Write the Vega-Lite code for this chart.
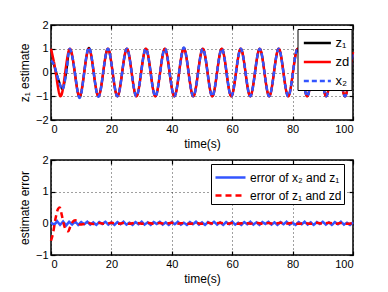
{
  "$schema": "https://vega.github.io/schema/vega-lite/v6.json",
  "padding": {"left": 17, "top": 18, "right": 5, "bottom": 5},
  "spacing": 3,
  "resolve": {"scale": {"color": "independent", "strokeDash": "independent"}, "legend": {"color": "independent", "strokeDash": "independent"}},
  "config": {
    "font": "Liberation Sans",
    "view": {"stroke": "black", "strokeWidth": 1.5},
    "axis": {
      "domain": false, "grid": true, "gridColor": "#000", "gridDash": [1, 3], "gridOpacity": 0.75,
      "tickColor": "#000", "tickSize": -4, "tickWidth": 1.2, "labelFontSize": 11, "labelColor": "#000",
      "titleFontSize": 12, "titleFontWeight": "normal", "titleColor": "#000", "labelPadding": 7, "titlePadding": 4
    }
  },
  "datasets": {
    "top": [
      {"t": 0, "s": "z1", "v": 0.5}, {"t": 1, "s": "z1", "v": 0.3}, {"t": 2, "s": "z1", "v": -0.1}, {"t": 3, "s": "z1", "v": -0.5}, {"t": 3.9, "s": "z1", "v": -0.68}, {"t": 4.8, "s": "z1", "v": -0.2}, {"t": 5.5, "s": "z1", "v": 0.45}, {"t": 6.283, "s": "z1", "v": 0.98}, {"t": 7.854, "s": "z1", "v": 0.05}, {"t": 9.425, "s": "z1", "v": -1.06}, {"t": 10.996, "s": "z1", "v": 0}, {"t": 12.566, "s": "z1", "v": 1.04}, {"t": 14.137, "s": "z1", "v": 0}, {"t": 15.708, "s": "z1", "v": -1}, {"t": 17.279, "s": "z1", "v": 0}, {"t": 18.85, "s": "z1", "v": 1}, {"t": 20.42, "s": "z1", "v": 0}, {"t": 21.991, "s": "z1", "v": -1}, {"t": 23.562, "s": "z1", "v": 0}, {"t": 25.133, "s": "z1", "v": 1}, {"t": 26.704, "s": "z1", "v": 0}, {"t": 28.274, "s": "z1", "v": -1}, {"t": 29.845, "s": "z1", "v": 0}, {"t": 31.416, "s": "z1", "v": 1}, {"t": 32.987, "s": "z1", "v": 0}, {"t": 34.558, "s": "z1", "v": -1}, {"t": 36.128, "s": "z1", "v": 0}, {"t": 37.699, "s": "z1", "v": 1}, {"t": 39.27, "s": "z1", "v": 0}, {"t": 40.841, "s": "z1", "v": -1}, {"t": 42.412, "s": "z1", "v": 0}, {"t": 43.982, "s": "z1", "v": 1.04}, {"t": 45.553, "s": "z1", "v": 0}, {"t": 47.124, "s": "z1", "v": -1}, {"t": 48.695, "s": "z1", "v": 0}, {"t": 50.265, "s": "z1", "v": 1}, {"t": 51.836, "s": "z1", "v": 0}, {"t": 53.407, "s": "z1", "v": -1}, {"t": 54.978, "s": "z1", "v": 0}, {"t": 56.549, "s": "z1", "v": 1}, {"t": 58.119, "s": "z1", "v": 0}, {"t": 59.69, "s": "z1", "v": -1}, {"t": 61.261, "s": "z1", "v": 0}, {"t": 62.832, "s": "z1", "v": 1}, {"t": 64.403, "s": "z1", "v": 0}, {"t": 65.973, "s": "z1", "v": -1}, {"t": 67.544, "s": "z1", "v": 0}, {"t": 69.115, "s": "z1", "v": 1}, {"t": 70.686, "s": "z1", "v": 0}, {"t": 72.257, "s": "z1", "v": -1}, {"t": 73.827, "s": "z1", "v": 0}, {"t": 75.398, "s": "z1", "v": 1}, {"t": 76.969, "s": "z1", "v": 0}, {"t": 78.54, "s": "z1", "v": -1}, {"t": 80.111, "s": "z1", "v": 0}, {"t": 81.681, "s": "z1", "v": 1}, {"t": 83.252, "s": "z1", "v": 0}, {"t": 84.823, "s": "z1", "v": -1}, {"t": 86.394, "s": "z1", "v": 0}, {"t": 87.965, "s": "z1", "v": 1}, {"t": 89.535, "s": "z1", "v": 0}, {"t": 91.106, "s": "z1", "v": -1}, {"t": 92.677, "s": "z1", "v": 0}, {"t": 94.248, "s": "z1", "v": 1}, {"t": 95.819, "s": "z1", "v": 0}, {"t": 97.389, "s": "z1", "v": -1}, {"t": 98.96, "s": "z1", "v": 0}, {"t": 100, "s": "z1", "v": 0.862},

      {"t": 0, "s": "zd", "v": 1}, {"t": 1.571, "s": "zd", "v": 0}, {"t": 3.142, "s": "zd", "v": -1}, {"t": 4.712, "s": "zd", "v": 0}, {"t": 6.283, "s": "zd", "v": 1}, {"t": 7.854, "s": "zd", "v": 0}, {"t": 9.425, "s": "zd", "v": -1}, {"t": 10.996, "s": "zd", "v": 0}, {"t": 12.566, "s": "zd", "v": 1}, {"t": 14.137, "s": "zd", "v": 0}, {"t": 15.708, "s": "zd", "v": -1}, {"t": 17.279, "s": "zd", "v": 0}, {"t": 18.85, "s": "zd", "v": 1}, {"t": 20.42, "s": "zd", "v": 0}, {"t": 21.991, "s": "zd", "v": -1}, {"t": 23.562, "s": "zd", "v": 0}, {"t": 25.133, "s": "zd", "v": 1}, {"t": 26.704, "s": "zd", "v": 0}, {"t": 28.274, "s": "zd", "v": -1}, {"t": 29.845, "s": "zd", "v": 0}, {"t": 31.416, "s": "zd", "v": 1}, {"t": 32.987, "s": "zd", "v": 0}, {"t": 34.558, "s": "zd", "v": -1}, {"t": 36.128, "s": "zd", "v": 0}, {"t": 37.699, "s": "zd", "v": 1}, {"t": 39.27, "s": "zd", "v": 0}, {"t": 40.841, "s": "zd", "v": -1}, {"t": 42.412, "s": "zd", "v": 0}, {"t": 43.982, "s": "zd", "v": 1}, {"t": 45.553, "s": "zd", "v": 0}, {"t": 47.124, "s": "zd", "v": -1}, {"t": 48.695, "s": "zd", "v": 0}, {"t": 50.265, "s": "zd", "v": 1}, {"t": 51.836, "s": "zd", "v": 0}, {"t": 53.407, "s": "zd", "v": -1}, {"t": 54.978, "s": "zd", "v": 0}, {"t": 56.549, "s": "zd", "v": 1}, {"t": 58.119, "s": "zd", "v": 0}, {"t": 59.69, "s": "zd", "v": -1}, {"t": 61.261, "s": "zd", "v": 0}, {"t": 62.832, "s": "zd", "v": 1}, {"t": 64.403, "s": "zd", "v": 0}, {"t": 65.973, "s": "zd", "v": -1}, {"t": 67.544, "s": "zd", "v": 0}, {"t": 69.115, "s": "zd", "v": 1}, {"t": 70.686, "s": "zd", "v": 0}, {"t": 72.257, "s": "zd", "v": -1}, {"t": 73.827, "s": "zd", "v": 0}, {"t": 75.398, "s": "zd", "v": 1}, {"t": 76.969, "s": "zd", "v": 0}, {"t": 78.54, "s": "zd", "v": -1}, {"t": 80.111, "s": "zd", "v": 0}, {"t": 81.681, "s": "zd", "v": 1}, {"t": 83.252, "s": "zd", "v": 0}, {"t": 84.823, "s": "zd", "v": -1}, {"t": 86.394, "s": "zd", "v": 0}, {"t": 87.965, "s": "zd", "v": 1}, {"t": 89.535, "s": "zd", "v": 0}, {"t": 91.106, "s": "zd", "v": -1}, {"t": 92.677, "s": "zd", "v": 0}, {"t": 94.248, "s": "zd", "v": 1}, {"t": 95.819, "s": "zd", "v": 0}, {"t": 97.389, "s": "zd", "v": -1}, {"t": 98.96, "s": "zd", "v": 0}, {"t": 100, "s": "zd", "v": 0.862},

      {"t": 0, "s": "x2", "v": 0.5}, {"t": 1, "s": "x2", "v": 0.32}, {"t": 2, "s": "x2", "v": -0.12}, {"t": 3, "s": "x2", "v": -0.52}, {"t": 3.9, "s": "x2", "v": -0.7}, {"t": 4.8, "s": "x2", "v": -0.2}, {"t": 5.5, "s": "x2", "v": 0.45}, {"t": 6.283, "s": "x2", "v": 0.99}, {"t": 7.854, "s": "x2", "v": 0.05}, {"t": 9.425, "s": "x2", "v": -1.07}, {"t": 10.996, "s": "x2", "v": 0}, {"t": 12.566, "s": "x2", "v": 1.05}, {"t": 14.137, "s": "x2", "v": 0}, {"t": 15.708, "s": "x2", "v": -1.02}, {"t": 17.279, "s": "x2", "v": 0}, {"t": 18.85, "s": "x2", "v": 1}, {"t": 20.42, "s": "x2", "v": 0}, {"t": 21.991, "s": "x2", "v": -1}, {"t": 23.562, "s": "x2", "v": 0}, {"t": 25.133, "s": "x2", "v": 1}, {"t": 26.704, "s": "x2", "v": 0}, {"t": 28.274, "s": "x2", "v": -1}, {"t": 29.845, "s": "x2", "v": 0}, {"t": 31.416, "s": "x2", "v": 1}, {"t": 32.987, "s": "x2", "v": 0}, {"t": 34.558, "s": "x2", "v": -1}, {"t": 36.128, "s": "x2", "v": 0}, {"t": 37.699, "s": "x2", "v": 1}, {"t": 39.27, "s": "x2", "v": 0}, {"t": 40.841, "s": "x2", "v": -1}, {"t": 42.412, "s": "x2", "v": 0}, {"t": 43.982, "s": "x2", "v": 1.05}, {"t": 45.553, "s": "x2", "v": 0}, {"t": 47.124, "s": "x2", "v": -1}, {"t": 48.695, "s": "x2", "v": 0}, {"t": 50.265, "s": "x2", "v": 1}, {"t": 51.836, "s": "x2", "v": 0}, {"t": 53.407, "s": "x2", "v": -1}, {"t": 54.978, "s": "x2", "v": 0}, {"t": 56.549, "s": "x2", "v": 1}, {"t": 58.119, "s": "x2", "v": 0}, {"t": 59.69, "s": "x2", "v": -1}, {"t": 61.261, "s": "x2", "v": 0}, {"t": 62.832, "s": "x2", "v": 1}, {"t": 64.403, "s": "x2", "v": 0}, {"t": 65.973, "s": "x2", "v": -1}, {"t": 67.544, "s": "x2", "v": 0}, {"t": 69.115, "s": "x2", "v": 1}, {"t": 70.686, "s": "x2", "v": 0}, {"t": 72.257, "s": "x2", "v": -1}, {"t": 73.827, "s": "x2", "v": 0}, {"t": 75.398, "s": "x2", "v": 1}, {"t": 76.969, "s": "x2", "v": 0}, {"t": 78.54, "s": "x2", "v": -1}, {"t": 80.111, "s": "x2", "v": 0}, {"t": 81.681, "s": "x2", "v": 1}, {"t": 83.252, "s": "x2", "v": 0}, {"t": 84.823, "s": "x2", "v": -1}, {"t": 86.394, "s": "x2", "v": 0}, {"t": 87.965, "s": "x2", "v": 1}, {"t": 89.535, "s": "x2", "v": 0}, {"t": 91.106, "s": "x2", "v": -1}, {"t": 92.677, "s": "x2", "v": 0}, {"t": 94.248, "s": "x2", "v": 1}, {"t": 95.819, "s": "x2", "v": 0}, {"t": 97.389, "s": "x2", "v": -1}, {"t": 98.96, "s": "x2", "v": 0}, {"t": 100, "s": "x2", "v": 0.862}
    ],
    "bottom": [
      {"t": 0, "s": "e1", "v": 0.03}, {"t": 1, "s": "e1", "v": -0.06}, {"t": 2, "s": "e1", "v": 0.07}, {"t": 3, "s": "e1", "v": -0.05}, {"t": 4, "s": "e1", "v": 0.06}, {"t": 5, "s": "e1", "v": -0.07}, {"t": 6, "s": "e1", "v": 0.05}, {"t": 7, "s": "e1", "v": -0.04}, {"t": 8, "s": "e1", "v": 0.06}, {"t": 9, "s": "e1", "v": -0.05}, {"t": 10, "s": "e1", "v": 0.04}, {"t": 11, "s": "e1", "v": -0.03}, {"t": 12, "s": "e1", "v": 0.05}, {"t": 13, "s": "e1", "v": -0.04}, {"t": 14, "s": "e1", "v": 0.03}, {"t": 15, "s": "e1", "v": -0.05}, {"t": 16, "s": "e1", "v": 0.04}, {"t": 17, "s": "e1", "v": -0.02}, {"t": 18, "s": "e1", "v": 0.05}, {"t": 19, "s": "e1", "v": -0.04}, {"t": 20, "s": "e1", "v": 0.03}, {"t": 21, "s": "e1", "v": -0.05}, {"t": 22, "s": "e1", "v": 0.04}, {"t": 23, "s": "e1", "v": -0.03}, {"t": 24, "s": "e1", "v": 0.05}, {"t": 25, "s": "e1", "v": -0.04}, {"t": 26, "s": "e1", "v": 0.02}, {"t": 27, "s": "e1", "v": -0.05}, {"t": 28, "s": "e1", "v": 0.04}, {"t": 29, "s": "e1", "v": -0.03}, {"t": 30, "s": "e1", "v": 0.05}, {"t": 31, "s": "e1", "v": -0.04}, {"t": 32, "s": "e1", "v": 0.03}, {"t": 33, "s": "e1", "v": -0.05}, {"t": 34, "s": "e1", "v": 0.04}, {"t": 35, "s": "e1", "v": -0.02}, {"t": 36, "s": "e1", "v": 0.05}, {"t": 37, "s": "e1", "v": -0.04}, {"t": 38, "s": "e1", "v": 0.03}, {"t": 39, "s": "e1", "v": -0.05}, {"t": 40, "s": "e1", "v": 0.04}, {"t": 41, "s": "e1", "v": -0.03}, {"t": 42, "s": "e1", "v": 0.05}, {"t": 43, "s": "e1", "v": -0.04}, {"t": 44, "s": "e1", "v": 0.02}, {"t": 45, "s": "e1", "v": -0.05}, {"t": 46, "s": "e1", "v": 0.04}, {"t": 47, "s": "e1", "v": -0.03}, {"t": 48, "s": "e1", "v": 0.05}, {"t": 49, "s": "e1", "v": -0.04}, {"t": 50, "s": "e1", "v": 0.03}, {"t": 51, "s": "e1", "v": -0.05}, {"t": 52, "s": "e1", "v": 0.04}, {"t": 53, "s": "e1", "v": -0.02}, {"t": 54, "s": "e1", "v": 0.05}, {"t": 55, "s": "e1", "v": -0.04}, {"t": 56, "s": "e1", "v": 0.03}, {"t": 57, "s": "e1", "v": -0.05}, {"t": 58, "s": "e1", "v": 0.04}, {"t": 59, "s": "e1", "v": -0.03}, {"t": 60, "s": "e1", "v": 0.05}, {"t": 61, "s": "e1", "v": -0.04}, {"t": 62, "s": "e1", "v": 0.02}, {"t": 63, "s": "e1", "v": -0.05}, {"t": 64, "s": "e1", "v": 0.04}, {"t": 65, "s": "e1", "v": -0.03}, {"t": 66, "s": "e1", "v": 0.05}, {"t": 67, "s": "e1", "v": -0.04}, {"t": 68, "s": "e1", "v": 0.03}, {"t": 69, "s": "e1", "v": -0.05}, {"t": 70, "s": "e1", "v": 0.04}, {"t": 71, "s": "e1", "v": -0.02}, {"t": 72, "s": "e1", "v": 0.05}, {"t": 73, "s": "e1", "v": -0.04}, {"t": 74, "s": "e1", "v": 0.03}, {"t": 75, "s": "e1", "v": -0.05}, {"t": 76, "s": "e1", "v": 0.04}, {"t": 77, "s": "e1", "v": -0.03}, {"t": 78, "s": "e1", "v": 0.05}, {"t": 79, "s": "e1", "v": -0.04}, {"t": 80, "s": "e1", "v": 0.02}, {"t": 81, "s": "e1", "v": -0.05}, {"t": 82, "s": "e1", "v": 0.04}, {"t": 83, "s": "e1", "v": -0.03}, {"t": 84, "s": "e1", "v": 0.05}, {"t": 85, "s": "e1", "v": -0.04}, {"t": 86, "s": "e1", "v": 0.03}, {"t": 87, "s": "e1", "v": -0.05}, {"t": 88, "s": "e1", "v": 0.04}, {"t": 89, "s": "e1", "v": -0.02}, {"t": 90, "s": "e1", "v": 0.05}, {"t": 91, "s": "e1", "v": -0.04}, {"t": 92, "s": "e1", "v": 0.03}, {"t": 93, "s": "e1", "v": -0.05}, {"t": 94, "s": "e1", "v": 0.04}, {"t": 95, "s": "e1", "v": -0.03}, {"t": 96, "s": "e1", "v": 0.05}, {"t": 97, "s": "e1", "v": -0.04}, {"t": 98, "s": "e1", "v": 0.02}, {"t": 99, "s": "e1", "v": -0.05}, {"t": 100, "s": "e1", "v": 0.03},

      {"t": 0, "s": "e2", "v": -0.55}, {"t": 0.7, "s": "e2", "v": -0.3}, {"t": 1.5, "s": "e2", "v": 0.15}, {"t": 2.3, "s": "e2", "v": 0.45}, {"t": 2.9, "s": "e2", "v": 0.5}, {"t": 3.6, "s": "e2", "v": 0.25}, {"t": 4.3, "s": "e2", "v": -0.05}, {"t": 5.0, "s": "e2", "v": -0.22}, {"t": 5.7, "s": "e2", "v": -0.25}, {"t": 6.4, "s": "e2", "v": -0.1}, {"t": 7.2, "s": "e2", "v": 0.05}, {"t": 8.0, "s": "e2", "v": 0.1}, {"t": 8.8, "s": "e2", "v": 0.05}, {"t": 9.6, "s": "e2", "v": -0.04}, {"t": 10.5, "s": "e2", "v": -0.03}, {"t": 12, "s": "e2", "v": 0.02}, {"t": 14, "s": "e2", "v": -0.02}, {"t": 16, "s": "e2", "v": 0.01}, {"t": 18, "s": "e2", "v": -0.02}, {"t": 20, "s": "e2", "v": 0.015}, {"t": 22, "s": "e2", "v": -0.015}, {"t": 24, "s": "e2", "v": 0.01}, {"t": 26, "s": "e2", "v": -0.015}, {"t": 28, "s": "e2", "v": 0.015}, {"t": 30, "s": "e2", "v": -0.01}, {"t": 32, "s": "e2", "v": 0.015}, {"t": 34, "s": "e2", "v": -0.015}, {"t": 36, "s": "e2", "v": 0.01}, {"t": 38, "s": "e2", "v": -0.015}, {"t": 40, "s": "e2", "v": 0.015}, {"t": 42, "s": "e2", "v": -0.01}, {"t": 44, "s": "e2", "v": 0.015}, {"t": 46, "s": "e2", "v": -0.015}, {"t": 48, "s": "e2", "v": 0.01}, {"t": 50, "s": "e2", "v": -0.015}, {"t": 52, "s": "e2", "v": 0.015}, {"t": 54, "s": "e2", "v": -0.01}, {"t": 56, "s": "e2", "v": 0.015}, {"t": 58, "s": "e2", "v": -0.015}, {"t": 60, "s": "e2", "v": 0.01}, {"t": 62, "s": "e2", "v": -0.015}, {"t": 64, "s": "e2", "v": 0.015}, {"t": 66, "s": "e2", "v": -0.01}, {"t": 68, "s": "e2", "v": 0.015}, {"t": 70, "s": "e2", "v": -0.015}, {"t": 72, "s": "e2", "v": 0.01}, {"t": 74, "s": "e2", "v": -0.015}, {"t": 76, "s": "e2", "v": 0.015}, {"t": 78, "s": "e2", "v": -0.01}, {"t": 80, "s": "e2", "v": 0.015}, {"t": 82, "s": "e2", "v": -0.015}, {"t": 84, "s": "e2", "v": 0.01}, {"t": 86, "s": "e2", "v": -0.015}, {"t": 88, "s": "e2", "v": 0.015}, {"t": 90, "s": "e2", "v": -0.01}, {"t": 92, "s": "e2", "v": 0.015}, {"t": 94, "s": "e2", "v": -0.015}, {"t": 96, "s": "e2", "v": 0.01}, {"t": 98, "s": "e2", "v": -0.015}, {"t": 100, "s": "e2", "v": 0.01}
    ]
  },
  "vconcat": [
    {
      "width": 302, "height": 95,
      "data": {"name": "top"},
      "resolve": {"axis": {"x": "independent", "y": "independent"}},
      "encoding": {
        "color": {"field": "s", "type": "nominal",
          "scale": {"domain": ["z1", "zd", "x2"], "range": ["#000000", "#ff0000", "#3355ff"]},
          "legend": {"orient": "none", "legendX": 246.5, "legendY": 4, "title": null, "strokeColor": "#000", "fillColor": "#fff",
            "padding": 2, "symbolType": "M-0.72,0L1.82,0", "symbolSize": 454, "symbolStrokeWidth": 2.5, "labelFontSize": 13, "labelColor": "#000", "labelOffset": 12,
            "rowPadding": 0, "labelExpr": "datum.label == 'z1' ? 'z₁' : datum.label == 'x2' ? 'x₂' : 'zd'"}},
        "strokeDash": {"field": "s", "type": "nominal",
          "scale": {"domain": ["z1", "zd", "x2"], "range": [[1, 0], [1, 0], [5, 3]]},
          "legend": {"orient": "none", "legendX": 246.5, "legendY": 4, "title": null, "strokeColor": "#000", "fillColor": "#fff",
            "padding": 2, "symbolType": "M-0.72,0L1.82,0", "symbolSize": 454, "symbolStrokeWidth": 2.5, "labelFontSize": 13, "labelColor": "#000", "labelOffset": 12,
            "rowPadding": 0, "labelExpr": "datum.label == 'z1' ? 'z₁' : datum.label == 'x2' ? 'x₂' : 'zd'"}}
      },
      "layer": [
        {
          "transform": [{"filter": "datum.s == 'z1'"}],
          "mark": {"type": "line", "interpolate": "natural", "strokeWidth": 2},
          "encoding": {
            "x": {"field": "t", "type": "quantitative", "scale": {"domain": [0, 100], "nice": false},
              "axis": {"title": "time(s)", "values": [0, 20, 40, 60, 80, 100]}},
            "y": {"field": "v", "type": "quantitative", "scale": {"domain": [-2, 2], "nice": false},
              "axis": {"title": "z₁ estimate", "values": [-2, -1, 0, 1, 2]}}
          }
        },
        {
          "transform": [{"filter": "datum.s == 'zd'"}],
          "mark": {"type": "line", "interpolate": "natural", "strokeWidth": 2.5},
          "encoding": {
            "x": {"field": "t", "type": "quantitative", "axis": {"orient": "top", "labels": false, "grid": false, "title": null, "values": [0, 20, 40, 60, 80, 100]}},
            "y": {"field": "v", "type": "quantitative", "axis": {"orient": "right", "labels": false, "grid": false, "title": null, "values": [-2, -1, 0, 1, 2]}}
          }
        },
        {
          "transform": [{"filter": "datum.s == 'x2'"}],
          "mark": {"type": "line", "interpolate": "natural", "strokeWidth": 2.5},
          "encoding": {
            "x": {"field": "t", "type": "quantitative", "axis": null},
            "y": {"field": "v", "type": "quantitative", "axis": null}
          }
        }
      ]
    },
    {
      "width": 302, "height": 95,
      "data": {"name": "bottom"},
      "resolve": {"axis": {"x": "independent", "y": "independent"}},
      "encoding": {
        "color": {"field": "s", "type": "nominal",
          "scale": {"domain": ["e1", "e2"], "range": ["#3355ff", "#ff0000"]},
          "legend": {"orient": "none", "legendX": 160, "legendY": 4, "title": null, "strokeColor": "#000", "fillColor": "#fff",
            "padding": 2, "symbolType": "M-0.9,0L2.1,0", "symbolSize": 400, "symbolStrokeWidth": 2.5, "labelFontSize": 12, "labelColor": "#000", "labelOffset": 14,
            "rowPadding": 0, "labelExpr": "datum.label == 'e1' ? 'error of x₂ and z₁' : 'error of z₁ and zd'"}},
        "strokeDash": {"field": "s", "type": "nominal",
          "scale": {"domain": ["e1", "e2"], "range": [[1, 0], [6, 4]]},
          "legend": {"orient": "none", "legendX": 160, "legendY": 4, "title": null, "strokeColor": "#000", "fillColor": "#fff",
            "padding": 2, "symbolType": "M-0.9,0L2.1,0", "symbolSize": 400, "symbolStrokeWidth": 2.5, "labelFontSize": 12, "labelColor": "#000", "labelOffset": 14,
            "rowPadding": 0, "labelExpr": "datum.label == 'e1' ? 'error of x₂ and z₁' : 'error of z₁ and zd'"}}
      },
      "layer": [
        {
          "transform": [{"filter": "datum.s == 'e1'"}],
          "mark": {"type": "line", "strokeWidth": 2.5},
          "encoding": {
            "x": {"field": "t", "type": "quantitative", "scale": {"domain": [0, 100], "nice": false},
              "axis": {"title": "time(s)", "values": [0, 20, 40, 60, 80, 100]}},
            "y": {"field": "v", "type": "quantitative", "scale": {"domain": [-1, 2], "nice": false},
              "axis": {"title": "estimate error", "values": [-1, 0, 1, 2]}}
          }
        },
        {
          "transform": [{"filter": "datum.s == 'e2'"}],
          "mark": {"type": "line", "interpolate": "monotone", "strokeWidth": 2.5},
          "encoding": {
            "x": {"field": "t", "type": "quantitative", "axis": {"orient": "top", "labels": false, "grid": false, "title": null, "values": [0, 20, 40, 60, 80, 100]}},
            "y": {"field": "v", "type": "quantitative", "axis": {"orient": "right", "labels": false, "grid": false, "title": null, "values": [-1, 0, 1, 2]}}
          }
        }
      ]
    }
  ]
}
